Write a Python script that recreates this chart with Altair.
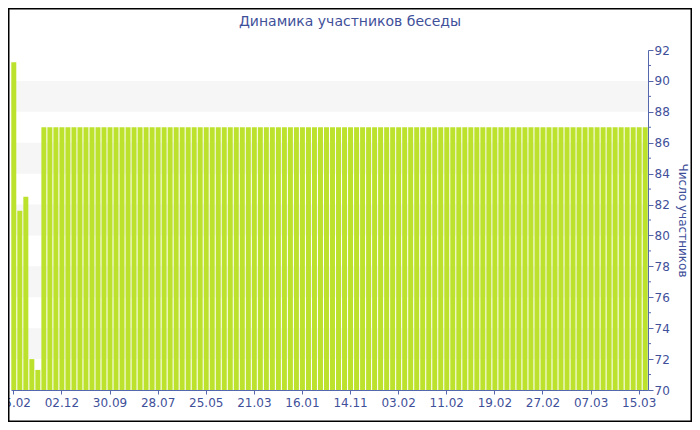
import altair as alt
import pandas as pd

# Data
values = [91.2, 81.6, 82.5, 72.0, 71.3] + [87] * 101
tick_labels = ['05.02', '02.12', '30.09', '28.07', '25.05', '21.03', '16.01',
               '14.11', '03.02', '11.02', '19.02', '27.02', '07.03', '15.03']
band_lo = [72, 76, 80, 84, 88]
band_hi = [74, 78, 82, 86, 90]
minor_ticks = [71, 73, 75, 77, 79, 81, 83, 85, 87, 89, 91]
major_ticks = [70, 72, 74, 76, 78, 80, 82, 84, 86, 88, 90, 92]
title_text = "Динамика участников беседы"

TEXT = "#3f509a"
AXIS = "#5568ad"
FONT = "DejaVu Sans"
W, H = 637, 340
PL, PT, PR, PB = 3, 42, 44, 32

df = pd.DataFrame({"i": list(range(len(values))), "v": values})
tick_idx = [k * 8 for k in range(len(tick_labels))]
lbl_arr = "[" + ",".join("'%s'" % t for t in tick_labels) + "]"

yscale = alt.Scale(domain=[70, 92], nice=False, zero=False)
yaxis = alt.Axis(orient="right", values=major_ticks, title="Число участников",
                 titleColor=TEXT, titleFont=FONT, titleFontSize=12,
                 titleFontWeight="normal", titlePadding=6,
                 labelColor=TEXT, labelFont=FONT, labelFontSize=12,
                 labelOverlap=False, labelBound=False, labelFlush=False,
                 domainColor=AXIS, tickColor=AXIS, tickSize=5,
                 labelPadding=1, grid=False)

bands = alt.Chart(pd.DataFrame({"lo": band_lo, "hi": band_hi})).mark_rect(
    color="#f6f6f6"
).encode(
    x=alt.value(0), x2=alt.value(W),
    y=alt.Y("lo:Q", scale=yscale, axis=yaxis), y2="hi:Q"
)

bars = alt.Chart(df).mark_bar(color="#bde22e", clip=True).encode(
    x=alt.X("i:O", scale=alt.Scale(paddingInner=0.17, paddingOuter=0.05),
            axis=alt.Axis(values=tick_idx, labelExpr=lbl_arr + "[datum.value/8]",
                          labelAngle=0, title=None, labelColor=TEXT, labelFont=FONT,
                          labelFontSize=12, domainColor=AXIS, tickColor=AXIS,
                          tickSize=4, labelPadding=3, labelOverlap=False)),
    y=alt.Y("v:Q", scale=yscale, axis=yaxis),
    y2=alt.datum(70)
)

minor = alt.Chart(pd.DataFrame({"m": minor_ticks})).mark_rule(color=AXIS).encode(
    x=alt.value(W), x2=alt.value(W + 3),
    y=alt.Y("m:Q", scale=yscale, axis=yaxis)
)

title = alt.Chart(pd.DataFrame({"t": [title_text]})).mark_text(
    color=TEXT, font=FONT, fontSize=14, baseline="middle", align="center"
).encode(
    text="t:N", x=alt.value(350 - 8 - PL), y=alt.value(22 - 8 - PT)
)

frame = alt.Chart(pd.DataFrame({"a": [0]})).mark_rect(
    fill=None, stroke="#000000", strokeWidth=1.5, clip=False
).encode(
    x=alt.value(-PL + 0.75), x2=alt.value(W + PR - 0.75),
    y=alt.value(-PT + 0.75), y2=alt.value(H + PB - 0.75)
)

chart = alt.layer(bands, bars, minor, title, frame).properties(
    width=W, height=H,
    autosize=alt.AutoSizeParams(type="none"),
    padding={"left": PL, "top": PT, "right": PR, "bottom": PB},
).configure_view(stroke=None)

chart.save("out.html", embed_options={"renderer": "svg", "actions": False})
